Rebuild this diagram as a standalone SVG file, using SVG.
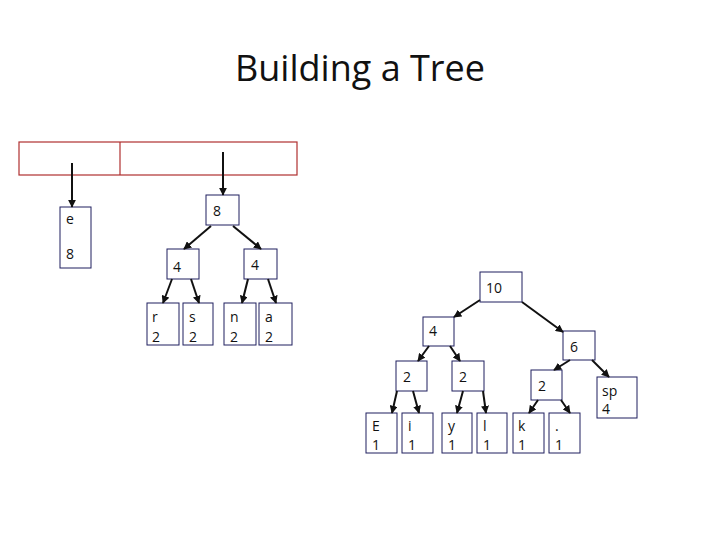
<svg xmlns="http://www.w3.org/2000/svg" width="720" height="540" viewBox="0 0 720 540">
<style>
.b{fill:#fff;stroke:#1f1f5f;stroke-width:1}
.t{font-family:"Open Sans","Liberation Sans",sans-serif;font-size:14px;fill:#111}
.c line{stroke:#111;stroke-width:2;marker-end:url(#a)}
</style>
<defs><marker id="a" viewBox="0 0 10 10" refX="9" refY="5" markerWidth="4" markerHeight="4" orient="auto"><path d="M0,0L10,5L0,10z" fill="#111"/></marker></defs>
<rect width="720" height="540" fill="#fff"/>
<text x="360" y="81" text-anchor="middle" font-family="Open Sans,Liberation Sans,sans-serif" font-size="36" fill="#111">Building a Tree</text>
<g id="table"><rect x="19" y="142" width="278" height="33" fill="none" stroke="#b03030" stroke-width="1.2"/><line x1="120" y1="142" x2="120" y2="175" stroke="#b03030" stroke-width="1.2"/></g>
<g id="e"><rect class="b" x="60" y="207" width="31" height="61"/><text class="t" x="66" y="224">e</text><text class="t" x="66" y="259">8</text></g>
<g id="n8"><rect class="b" x="206" y="195" width="33" height="30"/><text class="t" x="213" y="216">8</text></g>
<g id="n4a"><rect class="b" x="167" y="249" width="32" height="30"/><text class="t" x="173" y="272">4</text></g>
<g id="n4b"><rect class="b" x="244" y="249" width="33" height="30"/><text class="t" x="251" y="270">4</text></g>
<g id="r"><rect class="b" x="147" y="303" width="32" height="42"/><text class="t" x="152" y="322">r</text><text class="t" x="152" y="342">2</text></g>
<g id="s"><rect class="b" x="183" y="303" width="30" height="42"/><text class="t" x="189" y="322">s</text><text class="t" x="189" y="342">2</text></g>
<g id="n"><rect class="b" x="224" y="303" width="32" height="42"/><text class="t" x="230" y="322">n</text><text class="t" x="230" y="342">2</text></g>
<g id="a2"><rect class="b" x="259" y="303" width="33" height="42"/><text class="t" x="265" y="322">a</text><text class="t" x="265" y="342">2</text></g>
<g id="n10"><rect class="b" x="480" y="272" width="42" height="30"/><text class="t" x="486" y="293">10</text></g>
<g id="n4c"><rect class="b" x="423" y="317" width="31" height="29"/><text class="t" x="429" y="336">4</text></g>
<g id="n6"><rect class="b" x="563" y="331" width="32" height="29"/><text class="t" x="570" y="352">6</text></g>
<g id="n2a"><rect class="b" x="396" y="361" width="31" height="30"/><text class="t" x="403" y="382">2</text></g>
<g id="n2b"><rect class="b" x="452" y="361" width="32" height="30"/><text class="t" x="459" y="382">2</text></g>
<g id="n2c"><rect class="b" x="531" y="370" width="31" height="30"/><text class="t" x="538" y="391">2</text></g>
<g id="sp"><rect class="b" x="597" y="377" width="40" height="41"/><text class="t" x="602" y="396">sp</text><text class="t" x="602" y="414">4</text></g>
<g id="E"><rect class="b" x="366" y="413" width="31" height="40"/><text class="t" x="372" y="431">E</text><text class="t" x="372" y="450">1</text></g>
<g id="i"><rect class="b" x="402" y="413" width="31" height="40"/><text class="t" x="408" y="431">i</text><text class="t" x="408" y="450">1</text></g>
<g id="y"><rect class="b" x="442" y="413" width="30" height="40"/><text class="t" x="448" y="431">y</text><text class="t" x="448" y="450">1</text></g>
<g id="l"><rect class="b" x="477" y="413" width="30" height="40"/><text class="t" x="483" y="431">l</text><text class="t" x="483" y="450">1</text></g>
<g id="k"><rect class="b" x="513" y="413" width="31" height="40"/><text class="t" x="518" y="431">k</text><text class="t" x="518" y="450">1</text></g>
<g id="dot"><rect class="b" x="549" y="413" width="31" height="40"/><text class="t" x="555" y="431">.</text><text class="t" x="555" y="450">1</text></g>
<g class="c" id="connectors">
<line x1="72" y1="163" x2="72" y2="207"/>
<line x1="223" y1="152" x2="223" y2="195"/>
<line x1="211" y1="226" x2="184" y2="249"/>
<line x1="233" y1="226" x2="261" y2="249"/>
<line x1="172" y1="279" x2="163" y2="303"/>
<line x1="191" y1="279" x2="199" y2="303"/>
<line x1="248" y1="279" x2="242" y2="303"/>
<line x1="268" y1="279" x2="276" y2="303"/>
<line x1="480" y1="300" x2="454" y2="317"/>
<line x1="522" y1="302" x2="563" y2="332"/>
<line x1="429" y1="346" x2="418" y2="361"/>
<line x1="450" y1="346" x2="460" y2="361"/>
<line x1="397" y1="391" x2="392" y2="413"/>
<line x1="413" y1="391" x2="419" y2="413"/>
<line x1="463" y1="391" x2="457" y2="413"/>
<line x1="483" y1="391" x2="486" y2="413"/>
<line x1="570" y1="360" x2="554" y2="370"/>
<line x1="592" y1="360" x2="609" y2="377"/>
<line x1="538" y1="400" x2="529" y2="413"/>
<line x1="561" y1="400" x2="570" y2="413"/>
</g>
</svg>
